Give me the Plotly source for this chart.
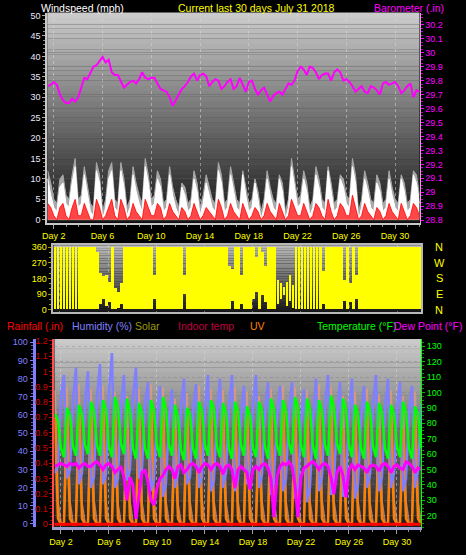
import numpy as np
import plotly.graph_objects as go

# time axis: one reading every 6 hours, noon July 1 -> midnight July 31
t = 1.5 + 0.25 * np.arange(123)
dir_x = 1.625 + 0.25 * np.arange(122)

day_ticks = [2, 6, 10, 14, 18, 22, 26, 30]
day_labels = ["Day 2", "Day 6", "Day 10", "Day 14", "Day 18", "Day 22", "Day 26", "Day 30"]

baro_ticks = [28.8, 28.9, 29.0, 29.1, 29.2, 29.3, 29.4, 29.5, 29.6, 29.7, 29.8, 29.9, 30.0, 30.1, 30.2]
baro_labels = ["28.8", "28.9", "29", "29.1", "29.2", "29.3", "29.4", "29.5", "29.6", "29.7",
               "29.8", "29.9", "30", "30.1", "30.2"]
rain_ticks = [0, 0.1, 0.2, 0.3, 0.4, 0.5, 0.6, 0.7, 0.8, 0.9, 1.0, 1.1, 1.2]
rain_labels = ["0", "0.1", "0.2", "0.3", "0.4", "0.5", "0.6", "0.7", "0.8", "0.9", "1", "1.1", "1.2"]
compass = ["N", "W", "S", "E", "N"]
compass_deg = [360, 270, 180, 90, 0]

baro_in = [29.76, 29.77, 29.79, 29.77, 29.70, 29.66, 29.64, 29.64, 29.67, 29.65, 29.68, 29.76,
           29.82, 29.81, 29.85, 29.90, 29.91, 29.94, 29.97, 29.93, 29.95, 29.86, 29.84, 29.84,
           29.80, 29.75, 29.77, 29.79, 29.80, 29.78, 29.81, 29.86, 29.82, 29.81, 29.82, 29.82,
           29.78, 29.74, 29.73, 29.72, 29.68, 29.62, 29.66, 29.70, 29.74, 29.76, 29.79, 29.83,
           29.85, 29.80, 29.84, 29.85, 29.83, 29.76, 29.79, 29.81, 29.80, 29.74, 29.76, 29.79,
           29.81, 29.74, 29.76, 29.82, 29.77, 29.72, 29.79, 29.80, 29.74, 29.70, 29.73, 29.75,
           29.70, 29.65, 29.69, 29.71, 29.72, 29.70, 29.74, 29.78, 29.77, 29.80, 29.87, 29.90,
           29.88, 29.84, 29.90, 29.89, 29.86, 29.81, 29.84, 29.85, 29.85, 29.80, 29.86, 29.88,
           29.86, 29.80, 29.81, 29.79, 29.76, 29.72, 29.74, 29.76, 29.72, 29.71, 29.76, 29.75,
           29.73, 29.70, 29.78, 29.79, 29.77, 29.78, 29.79, 29.76, 29.71, 29.73, 29.76, 29.78,
           29.68, 29.73, 29.72]

wind_mph = [10, 6, 3, 2, 8, 9, 4, 3, 9, 13, 3, 4, 11, 7, 2, 1, 12, 9, 0, 3, 10, 12, 3, 2,
            12, 8, 1, 3, 11, 7, 4, 2, 13, 9, 3, 4, 10, 8, 2, 3, 11, 6, 3, 1, 8, 6, 2, 3,
            10, 7, 1, 4, 9, 6, 3, 2, 12, 9, 2, 3, 11, 7, 3, 2, 11, 6, 2, 3, 9, 5, 0, 3,
            10, 6, 3, 2, 10, 7, 0, 3, 13, 8, 3, 4, 10, 7, 1, 3, 11, 8, 3, 2, 12, 7, 2, 3,
            10, 8, 4, 3, 13, 9, 0, 3, 10, 7, 3, 2, 9, 7, 2, 3, 10, 6, 3, 2, 10, 7, 2, 3,
            11, 9, 4]

gust_mph = [12, 9, 5, 4, 10, 11, 6, 5, 11, 15, 5, 6, 13, 9, 4, 3, 14, 11, 2, 5, 12, 14, 5, 4,
            14, 10, 3, 5, 13, 9, 6, 4, 15, 11, 5, 6, 12, 10, 4, 5, 13, 8, 5, 3, 9, 8, 4, 5,
            12, 9, 3, 6, 11, 8, 5, 4, 14, 11, 4, 5, 13, 9, 5, 4, 12, 8, 4, 5, 10, 7, 2, 5,
            12, 8, 5, 4, 11, 9, 2, 5, 15, 10, 5, 6, 12, 9, 3, 5, 13, 10, 5, 4, 13, 9, 4, 5,
            11, 10, 6, 5, 15, 11, 2, 5, 12, 9, 5, 4, 11, 9, 4, 5, 12, 8, 5, 4, 11, 9, 4, 5,
            12, 11, 6]

avg_mph = [4, 3, 1, 0, 3, 4, 1, 0, 3, 5, 1, 1, 4, 2, 0, 0, 5, 3, 0, 1, 3, 5, 1, 0,
           5, 3, 0, 1, 4, 2, 1, 0, 5, 3, 1, 1, 4, 3, 0, 1, 4, 2, 1, 0, 3, 2, 0, 1,
           4, 2, 0, 1, 3, 2, 1, 0, 5, 3, 0, 1, 4, 2, 1, 0, 4, 2, 0, 1, 3, 2, 0, 1,
           4, 2, 1, 0, 4, 2, 0, 1, 5, 3, 1, 1, 4, 2, 0, 1, 4, 3, 1, 0, 5, 2, 0, 1,
           4, 3, 1, 1, 6, 3, 0, 1, 4, 2, 1, 0, 3, 2, 0, 1, 4, 2, 1, 0, 4, 2, 0, 1,
           4, 3, 1]

dir_lo = [0, 0, 0, 0, 0, 0, 0, 0, 0, 0, 0, 0, 0, 0,
          0, 30, 60, 20, 40, 0, 0, 10, 30,
          0, 0, 0, 0, 0, 0, 0, 0, 0, 0, 60,
          0, 0, 0, 0, 0, 0, 0, 0, 0, 90,
          0, 0, 0, 0, 0, 0, 0, 0, 0, 0, 0, 0, 0, 0, 0, 50,
          0, 0, 30, 0, 0, 0, 60, 100, 0, 80, 40,
          0, 0, 0, 30, 60, 80, 20, 50, 10,
          0, 0, 0, 0, 0, 0, 0, 0, 0, 30,
          0, 0, 0, 0, 0, 0, 50, 0, 40, 0, 60, 0,
          0, 0, 0, 0, 0, 0, 0, 0, 0, 0, 0, 0, 0, 0, 0, 0, 0, 0, 0, 0]

dir_hi = [360, 360, 360, 360, 360, 360, 360, 360, 360, 360, 360, 360, 360, 360,
          330, 210, 190, 200, 160, 360, 120, 100, 150,
          360, 360, 360, 360, 360, 360, 360, 360, 360, 360, 200,
          360, 360, 360, 360, 360, 360, 360, 360, 360, 200,
          360, 360, 360, 360, 360, 360, 360, 360, 360, 360, 360, 360, 360, 360, 250, 230,
          360, 360, 200, 360, 360, 360, 360, 300, 360, 330, 250,
          360, 360, 360, 170, 150, 130, 160, 200, 140,
          360, 360, 360, 360, 360, 360, 360, 360, 360, 220,
          360, 360, 360, 360, 360, 360, 170, 360, 150, 360, 200, 360,
          360, 360, 360, 360, 360, 360, 360, 360, 360, 360, 360, 360, 360, 360, 360, 360, 360, 360, 360, 360]

temp_f = [86, 82, 64, 58, 90, 85, 65, 59, 92, 86, 66, 60, 94, 88, 66, 59, 95, 89, 65, 58,
          97, 90, 67, 60, 96, 88, 64, 57, 93, 87, 64, 57, 95, 88, 66, 58, 97, 89, 66, 59,
          92, 84, 63, 56, 90, 86, 64, 57, 94, 88, 66, 59, 95, 89, 65, 58, 93, 87, 64, 57,
          94, 88, 66, 59, 91, 85, 64, 58, 94, 88, 65, 57, 96, 89, 66, 59, 95, 88, 67, 60,
          97, 90, 66, 58, 96, 89, 65, 57, 95, 88, 66, 59, 98, 90, 67, 60, 96, 89, 66, 58,
          92, 86, 64, 57, 94, 88, 65, 58, 93, 87, 64, 57, 92, 86, 65, 58, 94, 87, 64, 57,
          91, 86, 64]

dew_f = [52, 53, 54, 53, 52, 54, 53, 54, 51, 53, 54, 52, 52, 54, 55, 53, 50, 53, 54, 52,
         48, 50, 52, 45, 30, 45, 40, 18, 35, 48, 50, 42, 30, 27, 38, 44, 46, 50, 52, 50,
         44, 52, 53, 48, 50, 53, 54, 52, 48, 52, 54, 53, 50, 53, 54, 52, 47, 52, 53, 50,
         38, 50, 52, 50, 48, 37, 50, 52, 50, 53, 54, 51, 44, 19, 45, 52, 54, 53, 55, 52,
         40, 19, 45, 51, 52, 54, 55, 53, 50, 53, 54, 52, 45, 34, 48, 52, 46, 32, 50, 53,
         50, 53, 52, 51, 48, 52, 53, 52, 49, 53, 54, 52, 48, 52, 53, 51, 50, 55, 54, 52,
         48, 51, 50]

humidity = [28, 32, 70, 82, 25, 30, 68, 86, 22, 28, 66, 84, 20, 26, 70, 88, 22, 27, 72, 94,
            20, 25, 65, 82, 24, 30, 70, 86, 25, 30, 66, 78, 18, 24, 60, 76, 15, 22, 58, 74,
            20, 28, 64, 80, 22, 26, 62, 77, 20, 26, 64, 82, 18, 24, 62, 80, 20, 28, 64, 82,
            18, 25, 60, 76, 22, 30, 66, 82, 20, 27, 62, 78, 16, 24, 60, 76, 18, 25, 62, 78,
            14, 20, 56, 74, 12, 20, 58, 80, 18, 26, 64, 82, 16, 22, 60, 78, 15, 24, 62, 80,
            14, 22, 58, 76, 20, 27, 66, 82, 18, 26, 64, 80, 20, 28, 64, 78, 18, 25, 62, 76,
            20, 30, 66]

uv_index = [9, 0.5, 0, 0, 9, 0.5, 0, 0, 10, 0.5, 0, 0, 9, 0.5, 0, 0, 10, 0.5, 0, 0,
            9, 0.5, 0, 0, 8, 0.5, 0, 0, 9, 0.5, 0, 0, 10, 0.5, 0, 0, 9, 0.5, 0, 0,
            8, 0.5, 0, 0, 9, 0.5, 0, 0, 10, 0.5, 0, 0, 9, 0.5, 0, 0, 9, 0.5, 0, 0,
            10, 0.5, 0, 0, 9, 0.5, 0, 0, 8, 0.5, 0, 0, 9, 0.5, 0, 0, 10, 0.5, 0, 0,
            9, 0.5, 0, 0, 9, 0.5, 0, 0, 10, 0.5, 0, 0, 9, 0.5, 0, 0, 8, 0.5, 0, 0,
            9, 0.5, 0, 0, 9, 0.5, 0, 0, 8, 0.5, 0, 0, 9, 0.5, 0, 0, 8, 0.5, 0, 0,
            9, 0.5, 0]

solar_wm2 = [940, 150, 0, 0, 960, 150, 0, 0, 980, 140, 0, 0, 950, 160, 0, 0,
             970, 150, 0, 0, 930, 130, 0, 0, 900, 150, 0, 0, 950, 140, 0, 0,
             980, 160, 0, 0, 960, 150, 0, 0, 880, 130, 0, 0, 920, 150, 0, 0,
             970, 160, 0, 0, 950, 150, 0, 0, 940, 140, 0, 0, 960, 150, 0, 0,
             930, 130, 0, 0, 900, 150, 0, 0, 950, 160, 0, 0, 970, 150, 0, 0,
             960, 140, 0, 0, 940, 150, 0, 0, 980, 160, 0, 0, 960, 150, 0, 0,
             900, 130, 0, 0, 930, 150, 0, 0, 950, 140, 0, 0, 910, 150, 0, 0,
             940, 160, 0, 0, 900, 150, 0, 0, 930, 150, 0]

rain_day = [1, 2, 3, 4, 5, 6, 7, 8, 9, 10, 11, 12, 13, 14, 15, 16,
            17, 18, 19, 20, 21, 22, 23, 24, 25, 26, 27, 28, 29, 30, 31, 32]
rain_in = [0.0, 0.0, 0.0, 0.0, 0.0, 0.0, 0.0, 0.0, 0.0, 0.0, 0.0, 0.0, 0.0, 0.0, 0.0, 0.0,
           0.0, 0.0, 0.0, 0.0, 0.0, 0.0, 0.0, 0.0, 0.0, 0.0, 0.0, 0.0, 0.0, 0.0, 0.0, 0.0]

W, H = 466, 555
FONT = "Liberation Sans"


def px_x(v):
    return v / W


def px_y(v):
    return 1 - v / H


def gradient(xref, yref, top, bottom, n=40):
    out = []
    for i in range(n):
        f = (i + 0.5) / n
        c = int(top + (bottom - top) * f)
        out.append(dict(type="rect", xref=xref, yref=yref, x0=0, x1=1,
                        y0=1 - (i + 1) / n, y1=1 - i / n + 0.002,
                        fillcolor=f"rgb({c},{c},{c})", line=dict(width=0), layer="below"))
    return out


fig = go.Figure()

# --- panel 1: wind + barometer
fig.add_trace(go.Scatter(x=t, y=gust_mph, fill="tozeroy", mode="lines",
                         line=dict(color="#a8a8a8", width=1), fillcolor="#a8a8a8",
                         xaxis="x", yaxis="y"))
fig.add_trace(go.Scatter(x=t, y=wind_mph, fill="tozeroy", mode="lines",
                         line=dict(color="#ffffff", width=1), fillcolor="#ffffff",
                         xaxis="x", yaxis="y"))
fig.add_trace(go.Scatter(x=t, y=avg_mph, fill="tozeroy", mode="lines",
                         line=dict(color="rgba(255,0,0,0.8)", width=1), fillcolor="rgba(255,0,0,0.72)",
                         xaxis="x", yaxis="y"))
fig.add_trace(go.Scatter(x=t, y=baro_in, mode="lines", line=dict(color="#ff00ff", width=2),
                         xaxis="x", yaxis="y2"))

# --- panel 2: wind direction
fig.add_trace(go.Bar(x=dir_x, y=np.array(dir_hi) - np.array(dir_lo), base=dir_lo, width=0.235,
                     marker=dict(color="#ffff00", line=dict(width=0)), xaxis="x2", yaxis="y3"))

# --- panel 3: temps, humidity, solar, uv, rain
fig.add_trace(go.Scatter(x=t, y=solar_wm2, mode="lines",
                         line=dict(color="rgba(230,155,120,0.75)", width=2),
                         xaxis="x3", yaxis="y5"))
fig.add_trace(go.Scatter(x=t, y=uv_index, mode="lines",
                         line=dict(color="#ff8000", width=2.5),
                         xaxis="x3", yaxis="y6"))
fig.add_trace(go.Scatter(x=t, y=humidity, mode="lines", line=dict(color="#8080ff", width=2.5),
                         xaxis="x3", yaxis="y7"))
fig.add_trace(go.Scatter(x=rain_day, y=rain_in, mode="lines", line=dict(color="#ff0000", width=3),
                         xaxis="x3", yaxis="y8"))
fig.add_trace(go.Scatter(x=t, y=temp_f, mode="lines", line=dict(color="#00ff00", width=2.5),
                         xaxis="x3", yaxis="y9"))
fig.add_trace(go.Scatter(x=t, y=dew_f, mode="lines", line=dict(color="#ff00ff", width=3),
                         xaxis="x3", yaxis="y9"))

xcommon = dict(range=[1.46, 32], zeroline=False, showgrid=True, gridcolor="rgba(215,215,215,0.55)",
               griddash="dot", gridwidth=1, tickvals=day_ticks, ticktext=day_labels,
               tickfont=dict(color="#ffff00", size=9, family=FONT), ticks="outside", ticklen=4,
               tickcolor="#a0a0a0",
               minor=dict(tickmode="linear", tick0=0, dtick=1, ticks="outside", ticklen=2,
                          tickcolor="#909090", showgrid=False))

shapes = (gradient("x domain", "y domain", 205, 22)
          + gradient("x2 domain", "y3 domain", 190, 25)
          + gradient("x3 domain", "y5 domain", 205, 28))

annotations = []
for txt, x0, col in [("Windspeed (mph)", 34, "#ffffff"),
                     ("Current last 30 days July 31 2018", 173, "#ffff00"),
                     ("Barometer (.in)", 371, "#ff00ff")]:
    annotations.append(dict(text=txt, x=px_x(x0), y=px_y(5), xref="paper", yref="paper",
                            xanchor="left", yanchor="middle", showarrow=False,
                            font=dict(color=col, size=10.5, family=FONT)))
for txt, x0, col in [("Rainfall (.in)", 0, "#ff0000"), ("Humidity (%)", 66, "#8080ff"),
                     ("Solar", 129, "#9a9a10"), ("Indoor temp", 173, "#c00040"),
                     ("UV", 246, "#ff8000"), ("Temperature (°F)", 313, "#00ff00"),
                     ("Dew Point (°F)", 391, "#ff00ff")]:
    annotations.append(dict(text=txt, x=px_x(x0), y=px_y(327), xref="paper", yref="paper",
                            xanchor="left", yanchor="middle", showarrow=False,
                            font=dict(color=col, size=10.5, family=FONT)))
for lab, deg in zip(compass, compass_deg):
    annotations.append(dict(text=lab, x=px_x(439), y=deg, xref="paper", yref="y3",
                            xanchor="center", yanchor="middle", showarrow=False,
                            font=dict(color="#ffff00", size=11, family=FONT)))

fig.update_layout(
    width=W, height=H, margin=dict(l=0, r=0, t=0, b=0),
    paper_bgcolor="#000000", plot_bgcolor="#000000", showlegend=False,
    font=dict(family=FONT), bargap=0, barmode="overlay",
    shapes=shapes, annotations=annotations,
    xaxis=dict(xcommon, domain=[px_x(42.7), px_x(419)], anchor="y",
               showline=True, linecolor="#c8c8c8", linewidth=2),
    yaxis=dict(domain=[px_y(222), px_y(10)], range=[-0.7, 50.65], anchor="x",
               tickvals=list(range(0, 51, 5)), tickfont=dict(color="#e8e8ff", size=9),
               ticks="outside", ticklen=3, tickcolor="#b0b0b0",
               minor=dict(tickmode="linear", tick0=0, dtick=1, ticks="outside", ticklen=2,
                          tickcolor="#909090", showgrid=False),
               showgrid=False, zeroline=False, showline=True, linecolor="#c8c8c8", linewidth=2),
    yaxis2=dict(overlaying="y", side="right", anchor="x", range=[28.783, 30.285],
                tickvals=baro_ticks, ticktext=baro_labels, tickfont=dict(color="#ff00ff", size=9),
                ticks="outside", ticklen=3, tickcolor="#ff00ff",
                minor=dict(tickmode="linear", tick0=0, dtick=0.025, ticks="outside", ticklen=2,
                           tickcolor="#c000c0", showgrid=False),
                showgrid=True, gridcolor="rgba(90,90,90,0.35)", zeroline=False,
                showline=True, linecolor="#e0a0e0", linewidth=1),
    xaxis2=dict(range=[1.46, 32], domain=[px_x(49), px_x(421)], anchor="y3",
                showticklabels=False, ticks="", zeroline=False, showgrid=True,
                gridcolor="rgba(215,215,215,0.45)", griddash="dot", tickvals=day_ticks,
                showline=True, mirror=True, linecolor="#b8b8b8", linewidth=2),
    yaxis3=dict(domain=[px_y(312), px_y(245)], range=[-11, 370], anchor="x2",
                tickvals=[0, 90, 180, 270, 360], tickfont=dict(color="#ffff00", size=9),
                ticks="outside", ticklen=3, tickcolor="#a0a000",
                minor=dict(tickmode="linear", tick0=0, dtick=30, ticks="outside", ticklen=2,
                           tickcolor="#a0a000", showgrid=False),
                showgrid=False, zeroline=False, showline=True, mirror=True,
                linecolor="#b8b8b8", linewidth=2),
    xaxis3=dict(xcommon, domain=[px_x(50), px_x(420.5)], anchor="y5",
                showline=True, linecolor="#a0a0d0", linewidth=3),
    yaxis5=dict(domain=[px_y(530), px_y(340)], range=[-30, 1300], anchor="x3",
                visible=False, showgrid=False, zeroline=False),
    yaxis6=dict(overlaying="y5", range=[-0.25, 15.5], visible=False, showgrid=False,
                zeroline=False),
    yaxis7=dict(overlaying="y5", anchor="free", position=px_x(29), side="left",
                range=[-1.8, 101.6], tickvals=list(range(0, 101, 10)),
                tickfont=dict(color="#8080ff", size=9), ticks="outside", ticklen=3,
                tickcolor="#8080ff",
                minor=dict(tickmode="linear", tick0=0, dtick=2, ticks="outside", ticklen=2,
                           tickcolor="#6060c0", showgrid=False),
                showgrid=False, zeroline=False, showline=True, linecolor="#8080ff", linewidth=3),
    yaxis8=dict(overlaying="y5", anchor="x3", side="left", range=[-0.02, 1.21],
                tickvals=rain_ticks, ticktext=rain_labels, tickfont=dict(color="#d00000", size=9),
                ticks="outside", ticklen=3, tickcolor="#d00000",
                minor=dict(tickmode="linear", tick0=0, dtick=0.025, ticks="outside", ticklen=2,
                           tickcolor="#a00000", showgrid=False),
                showgrid=False, zeroline=False, showline=True, linecolor="#ff5050", linewidth=2),
    yaxis9=dict(overlaying="y5", anchor="x3", side="right", range=[12.5, 134.5],
                tickvals=list(range(20, 131, 10)), tickfont=dict(color="#00ff00", size=9),
                ticks="outside", ticklen=3, tickcolor="#00c000",
                minor=dict(tickmode="linear", tick0=0, dtick=2.5, ticks="outside", ticklen=2,
                           tickcolor="#00a000", showgrid=False),
                showgrid=True, gridcolor="rgba(120,120,120,0.35)", griddash="dot",
                zeroline=False, showline=True, linecolor="#00ff00", linewidth=1),
)

fig.write_html("out.html", config={"displayModeBar": False},
               post_script="document.body.style.margin='0px';document.body.style.overflow='hidden';")
